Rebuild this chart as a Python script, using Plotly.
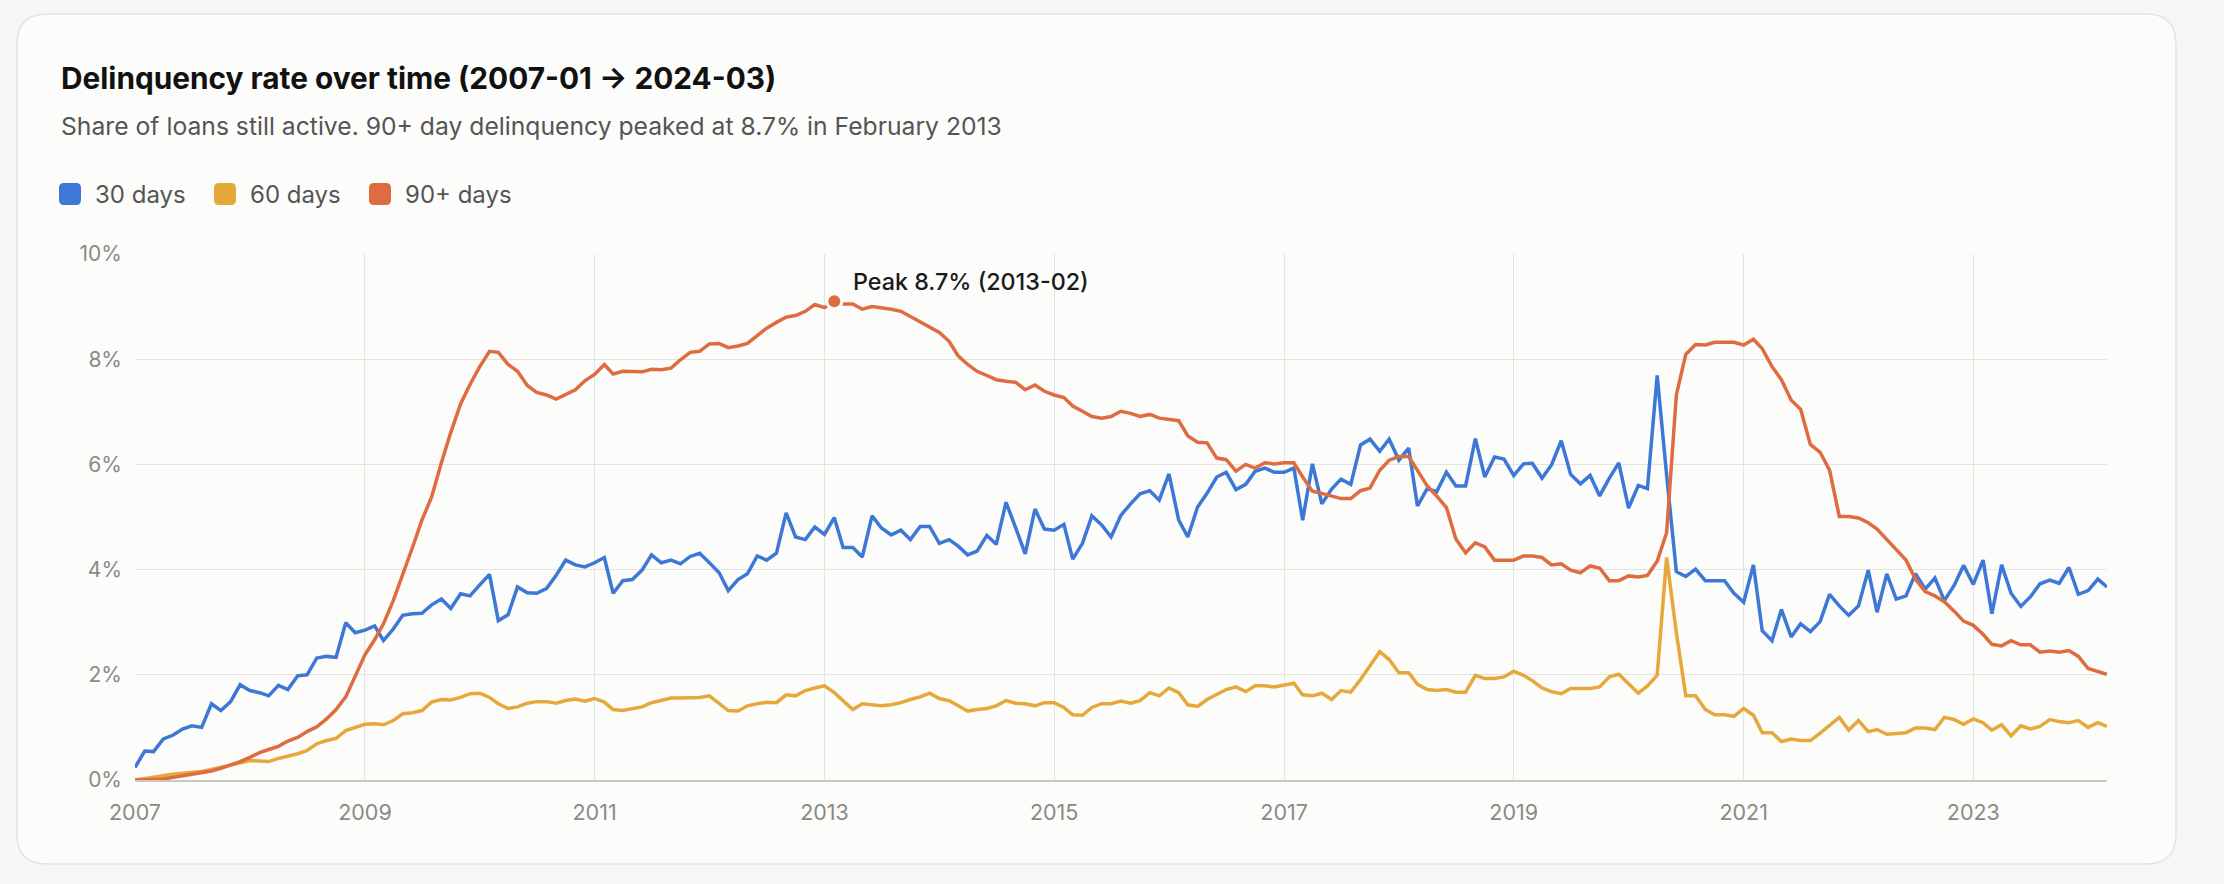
import pandas as pd
import plotly.graph_objects as go

# ---------------- data ----------------
start_month = "2007-01-01"
n_months = 207  # 2007-01 .. 2024-03

series_names = ["30 days", "60 days", "90+ days"]
series_colors = ["#3d78d6", "#e6a83a", "#de6c40"]

days30 = [
    0.24, 0.55, 0.54, 0.78, 0.85, 0.97, 1.03, 1.00, 1.45, 1.32,
    1.49, 1.81, 1.70, 1.66, 1.60, 1.80, 1.72, 1.98, 2.00, 2.32,
    2.35, 2.33, 2.99, 2.80, 2.85, 2.93, 2.65, 2.87, 3.13, 3.16,
    3.17, 3.33, 3.44, 3.26, 3.54, 3.50, 3.71, 3.91, 3.03, 3.14,
    3.67, 3.56, 3.55, 3.64, 3.89, 4.18, 4.09, 4.05, 4.13, 4.23,
    3.55, 3.79, 3.81, 3.99, 4.28, 4.13, 4.18, 4.11, 4.25, 4.31,
    4.13, 3.94, 3.60, 3.81, 3.92, 4.26, 4.18, 4.31, 5.08, 4.62,
    4.57, 4.81, 4.67, 4.99, 4.42, 4.42, 4.24, 5.02, 4.79, 4.66,
    4.75, 4.57, 4.82, 4.82, 4.50, 4.57, 4.45, 4.28, 4.35, 4.65,
    4.48, 5.28, 4.79, 4.30, 5.15, 4.77, 4.75, 4.86, 4.20, 4.50,
    5.02, 4.85, 4.62, 5.03, 5.25, 5.44, 5.50, 5.32, 5.82, 4.94,
    4.62, 5.19, 5.45, 5.76, 5.85, 5.52, 5.62, 5.87, 5.93, 5.85,
    5.85, 5.93, 4.94, 6.01, 5.25, 5.53, 5.72, 5.62, 6.37, 6.48,
    6.25, 6.48, 6.08, 6.31, 5.21, 5.54, 5.48, 5.85, 5.59, 5.59,
    6.49, 5.76, 6.14, 6.10, 5.79, 6.01, 6.02, 5.74, 5.99, 6.45,
    5.81, 5.63, 5.79, 5.40, 5.74, 6.03, 5.17, 5.60, 5.54, 7.69,
    5.80, 3.96, 3.87, 4.01, 3.79, 3.79, 3.79, 3.55, 3.38, 4.09,
    2.84, 2.65, 3.24, 2.72, 2.97, 2.82, 3.01, 3.53, 3.31, 3.13,
    3.31, 3.99, 3.19, 3.92, 3.44, 3.50, 3.92, 3.63, 3.84, 3.41,
    3.70, 4.08, 3.72, 4.18, 3.16, 4.09, 3.55, 3.30, 3.48, 3.73,
    3.80, 3.74, 4.04, 3.53, 3.60, 3.82, 3.67,
]

days60 = [
    0.00, 0.03, 0.06, 0.09, 0.11, 0.13, 0.14, 0.16, 0.20, 0.24,
    0.28, 0.33, 0.37, 0.36, 0.35, 0.41, 0.45, 0.50, 0.56, 0.69,
    0.75, 0.79, 0.94, 1.00, 1.06, 1.07, 1.05, 1.13, 1.26, 1.28,
    1.32, 1.48, 1.53, 1.52, 1.57, 1.64, 1.65, 1.57, 1.45, 1.36,
    1.39, 1.46, 1.49, 1.49, 1.46, 1.51, 1.54, 1.50, 1.55, 1.48,
    1.34, 1.32, 1.36, 1.39, 1.47, 1.51, 1.56, 1.56, 1.56, 1.57,
    1.60, 1.46, 1.32, 1.31, 1.41, 1.45, 1.48, 1.47, 1.62, 1.60,
    1.70, 1.75, 1.79, 1.66, 1.51, 1.34, 1.45, 1.43, 1.41, 1.43,
    1.47, 1.53, 1.58, 1.65, 1.55, 1.51, 1.41, 1.31, 1.34, 1.36,
    1.41, 1.51, 1.46, 1.45, 1.41, 1.47, 1.47, 1.38, 1.24, 1.23,
    1.38, 1.45, 1.45, 1.50, 1.46, 1.51, 1.66, 1.60, 1.75, 1.66,
    1.43, 1.40, 1.53, 1.62, 1.72, 1.77, 1.68, 1.79, 1.79, 1.77,
    1.80, 1.84, 1.62, 1.60, 1.65, 1.53, 1.70, 1.67, 1.91, 2.18,
    2.44, 2.29, 2.04, 2.04, 1.82, 1.72, 1.70, 1.72, 1.67, 1.67,
    1.99, 1.93, 1.93, 1.96, 2.07, 1.99, 1.89, 1.75, 1.68, 1.64,
    1.74, 1.74, 1.74, 1.77, 1.96, 2.01, 1.82, 1.65, 1.79, 1.99,
    4.23, 2.80, 1.60, 1.60, 1.34, 1.24, 1.24, 1.21, 1.36, 1.23,
    0.90, 0.90, 0.73, 0.78, 0.75, 0.75, 0.89, 1.04, 1.19, 0.95,
    1.13, 0.92, 0.96, 0.87, 0.89, 0.90, 0.99, 0.99, 0.96, 1.19,
    1.15, 1.06, 1.16, 1.09, 0.95, 1.05, 0.84, 1.03, 0.97, 1.02,
    1.15, 1.11, 1.09, 1.13, 1.00, 1.09, 1.02,
]

days90 = [
    0.00, 0.00, 0.01, 0.02, 0.05, 0.07, 0.10, 0.13, 0.17, 0.22,
    0.28, 0.35, 0.43, 0.52, 0.58, 0.64, 0.74, 0.81, 0.92, 1.01,
    1.16, 1.34, 1.58, 1.96, 2.38, 2.67, 2.97, 3.41, 3.89, 4.42,
    4.94, 5.38, 6.03, 6.61, 7.15, 7.52, 7.86, 8.15, 8.13, 7.90,
    7.77, 7.50, 7.37, 7.32, 7.24, 7.33, 7.42, 7.59, 7.71, 7.90,
    7.72, 7.77, 7.76, 7.76, 7.81, 7.80, 7.83, 7.99, 8.13, 8.15,
    8.29, 8.30, 8.22, 8.25, 8.30, 8.44, 8.59, 8.70, 8.80, 8.83,
    8.91, 9.04, 8.98, 9.10, 9.05, 9.05, 8.95, 9.00, 8.98, 8.95,
    8.91, 8.81, 8.70, 8.61, 8.51, 8.34, 8.07, 7.90, 7.77, 7.69,
    7.61, 7.58, 7.56, 7.42, 7.51, 7.39, 7.32, 7.27, 7.11, 7.01,
    6.91, 6.88, 6.91, 7.01, 6.97, 6.91, 6.95, 6.88, 6.85, 6.83,
    6.54, 6.42, 6.41, 6.12, 6.09, 5.87, 6.00, 5.93, 6.03, 6.01,
    6.03, 6.03, 5.76, 5.49, 5.45, 5.40, 5.35, 5.35, 5.50, 5.55,
    5.89, 6.08, 6.15, 6.15, 5.87, 5.59, 5.40, 5.18, 4.58, 4.32,
    4.51, 4.43, 4.18, 4.18, 4.18, 4.26, 4.26, 4.23, 4.09, 4.11,
    3.99, 3.94, 4.07, 4.03, 3.79, 3.79, 3.88, 3.86, 3.89, 4.16,
    4.70, 7.32, 8.09, 8.28, 8.27, 8.32, 8.32, 8.32, 8.27, 8.38,
    8.20, 7.86, 7.61, 7.22, 7.05, 6.38, 6.23, 5.89, 5.01, 5.01,
    4.98, 4.89, 4.77, 4.57, 4.38, 4.18, 3.82, 3.58, 3.50, 3.39,
    3.21, 3.02, 2.94, 2.77, 2.58, 2.55, 2.65, 2.57, 2.57, 2.43,
    2.45, 2.43, 2.46, 2.35, 2.12, 2.06, 2.01,
]

peak_month = "2013-02-01"
peak_label = "Peak 8.7% (2013-02)"
title_text = "Delinquency rate over time (2007-01 → 2024-03)"
subtitle_text = "Share of loans still active. 90+ day delinquency peaked at 8.7% in February 2013"
y_ticks = [0, 2, 4, 6, 8, 10]
y_tick_labels = ["0%", "2%", "4%", "6%", "8%", "10%"]

months = pd.date_range(start_month, periods=n_months, freq="MS")

# ---------------- layout geometry (pixels) ----------------
W, H = 2224, 884
PAGE_BG = "#f6f6f4"
CARD_BG = "#fcfcfa"
CARD_BORDER = "#e3e3df"
GRID = "#e4e4df"
AXIS = "#c9c9c1"
TICK = "#8a8a85"
FONT = "Inter, 'Noto Sans', sans-serif"

plot_l, plot_r, plot_t, plot_b = 135, 2107, 254, 780


def px(x):
    return x / W


def py(y):
    return 1 - y / H


def rounded_rect(x0, y0, x1, y1, r):
    pts = [
        ("M", [(x0 + r, y0)]),
        ("L", [(x1 - r, y0)]),
        ("Q", [(x1, y0), (x1, y0 + r)]),
        ("L", [(x1, y1 - r)]),
        ("Q", [(x1, y1), (x1 - r, y1)]),
        ("L", [(x0 + r, y1)]),
        ("Q", [(x0, y1), (x0, y1 - r)]),
        ("L", [(x0, y0 + r)]),
        ("Q", [(x0, y0), (x0 + r, y0)]),
    ]
    s = ""
    for cmd, ps in pts:
        s += cmd + " " + " ".join(f"{px(a):.6f},{py(b):.6f}" for a, b in ps) + " "
    return s + "Z"


fig = go.Figure()

for name, vals, col in zip(series_names, [days30, days60, days90], series_colors):
    fig.add_trace(go.Scatter(
        x=months, y=vals, mode="lines", name=name,
        line=dict(color=col, width=3.5),
        showlegend=False,
        hovertemplate="%{x|%Y-%m}: %{y:.2f}%<extra>" + name + "</extra>",
    ))

peak_idx = list(months).index(pd.Timestamp(peak_month))
fig.add_trace(go.Scatter(
    x=[months[peak_idx]], y=[days90[peak_idx]], mode="markers",
    marker=dict(size=15, color=series_colors[2], line=dict(color=CARD_BG, width=3)),
    showlegend=False, hoverinfo="skip",
))

shapes = [
    dict(type="path", xref="paper", yref="paper",
         path=rounded_rect(17, 14, 2176, 864, 30),
         fillcolor=CARD_BG, line=dict(color=CARD_BORDER, width=1.5), layer="below"),
]

annotations = [
    dict(text=title_text, x=px(59), y=py(78), xref="paper", yref="paper",
         xanchor="left", yanchor="middle", showarrow=False,
         font=dict(family=FONT, size=29.8, color="#111111", weight=700)),
    dict(text=subtitle_text, x=px(59), y=py(126), xref="paper", yref="paper",
         xanchor="left", yanchor="middle", showarrow=False,
         font=dict(family=FONT, size=24.7, color="#555555")),
    dict(text=peak_label, x=months[peak_idx], y=days90[peak_idx],
         xref="x", yref="y", xanchor="left", yanchor="middle",
         xshift=17, yshift=20, showarrow=False,
         font=dict(family=FONT, size=23.3, color="#1a1a1a", weight=500)),
]

# legend (swatches + labels)
legend_x = [59, 214, 369]
for lx, name, col in zip(legend_x, series_names, series_colors):
    shapes.append(dict(type="path", xref="paper", yref="paper",
                       path=rounded_rect(lx, 183, lx + 22, 205, 5),
                       fillcolor=col, line=dict(width=0), layer="above"))
    annotations.append(dict(text=name, x=px(lx + 34), y=py(194), xref="paper", yref="paper",
                            xanchor="left", yanchor="middle", showarrow=False,
                            font=dict(family=FONT, size=24, color="#555555")))

fig.update_layout(
    width=W, height=H,
    margin=dict(l=0, r=0, t=0, b=0, autoexpand=False),
    paper_bgcolor=PAGE_BG,
    plot_bgcolor="rgba(0,0,0,0)",
    font=dict(family=FONT, color=TICK, size=21),
    shapes=shapes,
    annotations=annotations,
    hovermode="closest",
    xaxis=dict(
        domain=[px(plot_l), px(plot_r)],
        type="date",
        range=[months[0], months[-1]],
        tick0=start_month, dtick="M24", tickformat="%Y",
        showgrid=True, gridcolor=GRID, gridwidth=1.4,
        showline=True, linecolor=AXIS, linewidth=1.6,
        zeroline=False, ticks="",
        tickfont=dict(family=FONT, size=21.5, color=TICK),
        ticklabelstandoff=12,
        automargin=False,
        fixedrange=True,
    ),
    yaxis=dict(
        domain=[py(plot_b), py(plot_t)],
        range=[0, 10],
        tickmode="array", tickvals=y_ticks, ticktext=y_tick_labels,
        showgrid=True, gridcolor=GRID, gridwidth=1.4,
        showline=False, zeroline=False, ticks="",
        tickfont=dict(family=FONT, size=21, color=TICK),
        ticklabelstandoff=12,
        automargin=False,
        fixedrange=True,
    ),
)

fig.write_html(
    "out.html",
    config={"displayModeBar": False},
    post_script="document.body.style.margin='0';document.body.style.overflow='hidden';",
)
